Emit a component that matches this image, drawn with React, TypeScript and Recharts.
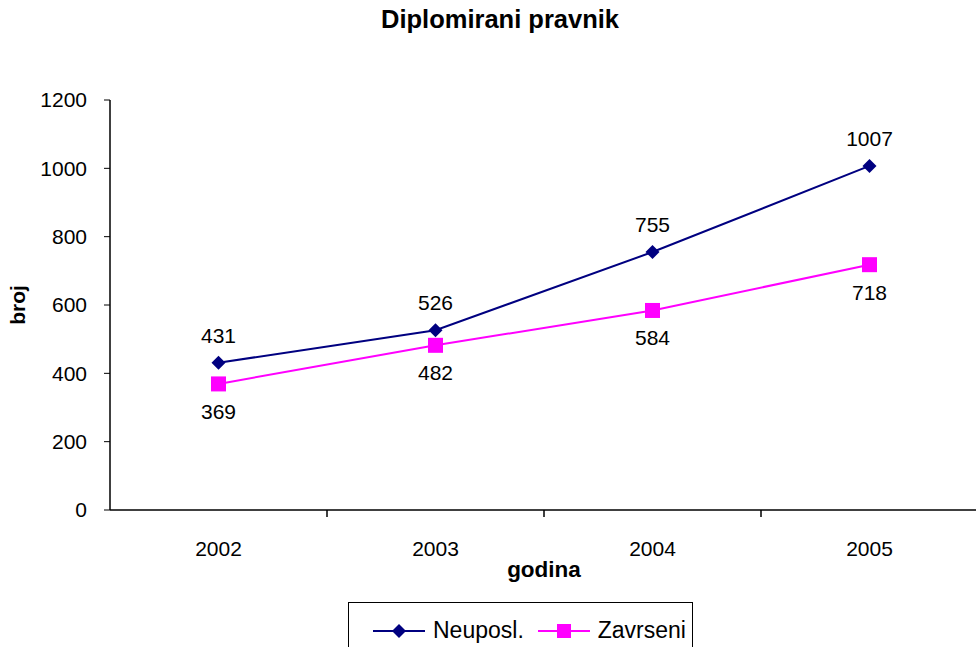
import { LineChart, Line, XAxis, YAxis, Legend, LabelList } from 'recharts';

const FONT = "'Liberation Sans', Arial, sans-serif";

const years = ['2002', '2003', '2004', '2005'];
const neuposl = [431, 526, 755, 1007];
const zavrseni = [369, 482, 584, 718];
const yTicks = [0, 200, 400, 600, 800, 1000, 1200];

const data = years.map((year, i) => ({
  year,
  neuposl: neuposl[i],
  zavrseni: zavrseni[i],
}));

const NAVY = '#000080';
const MAGENTA = '#FF00FF';
const X_TICK_MARGIN = 31;

// year label at the band centre, tick mark on the band's right border
const YearTick = (props: any) => {
  const { x, y, payload, width, visibleTicksCount } = props;
  const half =
    payload && payload.offset ? payload.offset : width / (visibleTicksCount || 1) / 2;
  const axisY = y - X_TICK_MARGIN;
  return (
    <g>
      <text x={x} y={y} dy="0.71em" textAnchor="middle" fill="#000" fontSize={21}>
        {payload.value}
      </text>
      <line
        x1={x + half}
        x2={x + half}
        y1={axisY}
        y2={axisY + 7}
        stroke="#000"
        strokeWidth={1.5}
      />
    </g>
  );
};

const Diamond = (props: any) => {
  const { cx, cy } = props;
  if (cx == null || cy == null) return null;
  return (
    <path
      key={`d-${cx}`}
      d={`M${cx},${cy - 7}L${cx + 7},${cy}L${cx},${cy + 7}L${cx - 7},${cy}Z`}
      fill={NAVY}
    />
  );
};

const Square = (props: any) => {
  const { cx, cy } = props;
  if (cx == null || cy == null) return null;
  return <rect key={`s-${cx}`} x={cx - 7.5} y={cy - 7.5} width={15} height={15} fill={MAGENTA} />;
};

const renderLegend = ({ payload }: any) => (
  <div
    style={{
      boxSizing: 'border-box',
      width: '100%',
      height: '100%',
      border: '1px solid #000',
      background: '#fff',
      display: 'flex',
      alignItems: 'flex-start',
      paddingTop: 14,
      paddingLeft: 24,
      fontFamily: FONT,
      fontSize: 23,
      color: '#000',
    }}
  >
    {(payload || []).map((entry: any) => {
      const isNavy = entry.dataKey === 'neuposl';
      return (
        <div key={entry.value} style={{ display: 'flex', alignItems: 'center', marginRight: 14 }}>
          <svg width={52} height={20}>
            <line x1={0} y1={10} x2={52} y2={10} stroke={entry.color} strokeWidth={2} />
            {isNavy ? (
              <path d="M26,3L33,10L26,17L19,10Z" fill={NAVY} />
            ) : (
              <rect x={19} y={3} width={14} height={14} fill={MAGENTA} />
            )}
          </svg>
          <span style={{ marginLeft: 8 }}>{entry.value}</span>
        </div>
      );
    })}
  </div>
);

export default function App() {
  return (
    <div
      style={{
        position: 'fixed',
        left: 0,
        top: 0,
        width: 976,
        height: 647,
        overflow: 'hidden',
        background: '#fff',
      }}
    >
      <div
        style={{
          position: 'absolute',
          left: 0,
          top: 5,
          width: 1000,
          textAlign: 'center',
          fontFamily: FONT,
          fontWeight: 'bold',
          fontSize: 25.5,
          color: '#000',
        }}
      >
        Diplomirani pravnik
      </div>
      <LineChart
        width={1000}
        height={700}
        data={data}
        margin={{ top: 100, right: 22, bottom: 120, left: 10 }}
        style={{ fontFamily: FONT }}
      >
        <XAxis
          dataKey="year"
          scale="band"
          height={70}
          tickSize={0}
          tickMargin={X_TICK_MARGIN}
          tickLine={false}
          axisLine={{ stroke: '#000', strokeWidth: 1.5 }}
          tick={<YearTick />}
          interval={0}
          label={{
            value: 'godina',
            position: 'insideBottom',
            offset: 3,
            fill: '#000',
            fontSize: 22.5,
            fontWeight: 'bold',
          }}
        />
        <YAxis
          width={100}
          domain={[0, 1200]}
          ticks={yTicks}
          interval={0}
          tickSize={6}
          tickMargin={17}
          tickLine={{ stroke: '#000' }}
          axisLine={{ stroke: '#000', strokeWidth: 1.5 }}
          tick={{ fill: '#000', fontSize: 21 }}
          label={{
            value: 'broj',
            angle: -90,
            position: 'insideLeft',
            offset: 8,
            fill: '#000',
            fontSize: 21,
            fontWeight: 'bold',
            style: { textAnchor: 'middle' },
          }}
        />
        <Legend
          layout="horizontal"
          verticalAlign="middle"
          align="center"
          wrapperStyle={{ left: 348, top: 602, width: 345, height: 60 }}
          content={renderLegend}
        />
        <Line
          name="Neuposl."
          dataKey="neuposl"
          stroke={NAVY}
          strokeWidth={2}
          dot={<Diamond />}
          activeDot={false}
          isAnimationActive={false}
        >
          <LabelList dataKey="neuposl" position="top" offset={20} fill="#000" fontSize={21} />
        </Line>
        <Line
          name="Zavrseni"
          dataKey="zavrseni"
          stroke={MAGENTA}
          strokeWidth={2}
          dot={<Square />}
          activeDot={false}
          isAnimationActive={false}
        >
          <LabelList dataKey="zavrseni" position="bottom" offset={20} fill="#000" fontSize={21} />
        </Line>
      </LineChart>
    </div>
  );
}
